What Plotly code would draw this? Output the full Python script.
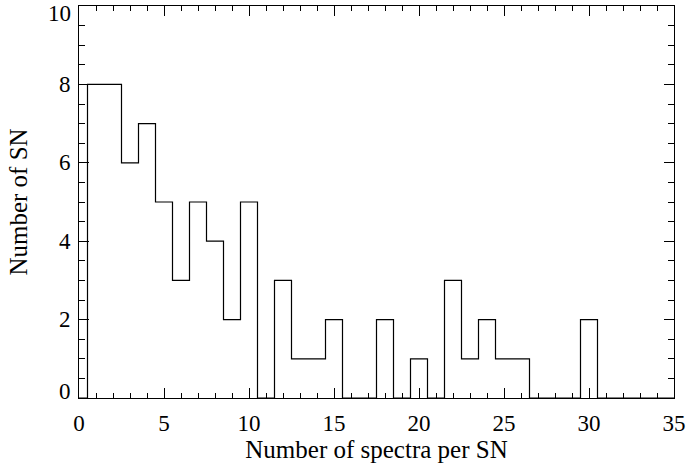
import plotly.graph_objects as go

# Histogram data: number of spectra per SN (bin centres) and counts
bin_centers = list(range(1, 31))
counts = [8, 8, 6, 7, 5, 3, 5, 4, 2, 5,
          0, 3, 1, 1, 2, 0, 0, 2, 0, 1,
          0, 3, 1, 2, 1, 1, 0, 0, 0, 2]
x_tick_vals = [0, 5, 10, 15, 20, 25, 30, 35]
y_tick_vals = [0, 2, 4, 6, 8, 10]

# step outline built from bin edges
edges = [c - 0.5 for c in bin_centers]
xs = [0] + edges + [bin_centers[-1] + 0.5, 35]
ys = [0] + counts + [0, 0]

font = "Liberation Serif, Times New Roman, serif"
tick_size = 23
title_size = 25

fig = go.Figure()
fig.add_trace(go.Scatter(x=xs, y=ys, mode="lines", line_shape="hv",
                         line=dict(color="black", width=1.2),
                         showlegend=False, hoverinfo="skip"))

axis_common = dict(showgrid=False, zeroline=False, showline=True,
                   linecolor="black", linewidth=1.2, mirror="allticks",
                   ticks="inside", tickcolor="black", tickwidth=1,
                   automargin=False,
                   tickfont=dict(family=font, size=tick_size, color="black"))

fig.update_xaxes(range=[0, 35], tickvals=x_tick_vals, ticklen=10,
                 ticklabeloverflow="allow", ticklabelstandoff=4,
                 minor=dict(dtick=1, ticks="inside", ticklen=5,
                            tickcolor="black", tickwidth=1),
                 title=dict(text="Number of spectra per SN",
                            font=dict(family=font, size=title_size, color="black"),
                            standoff=2),
                 **axis_common)
fig.update_yaxes(range=[0, 10], tickvals=y_tick_vals, ticklen=10,
                 showticklabels=False,
                 minor=dict(dtick=0.5, ticks="inside", ticklen=6,
                            tickcolor="black", tickwidth=1),
                 title=dict(text="Number of SN",
                            font=dict(family=font, size=title_size, color="black"),
                            standoff=43),
                 **axis_common)

# y tick labels as text, end labels nudged inside like the original
for v in y_tick_vals:
    shift = 0
    if v == y_tick_vals[-1]:
        shift = -7
    elif v == y_tick_vals[0]:
        shift = 7
    fig.add_annotation(x=0, xref="paper", y=v, yref="y", text=str(v),
                       showarrow=False, xanchor="right", yanchor="middle",
                       xshift=-6, yshift=shift,
                       font=dict(family=font, size=tick_size, color="black"))

fig.update_layout(width=690, height=465,
                  margin=dict(l=79, r=16, t=6, b=67),
                  paper_bgcolor="white", plot_bgcolor="white")

fig.write_html("out.html", config={"displayModeBar": False},
               post_script="document.body.style.margin='0px';document.body.style.overflow='hidden';")
